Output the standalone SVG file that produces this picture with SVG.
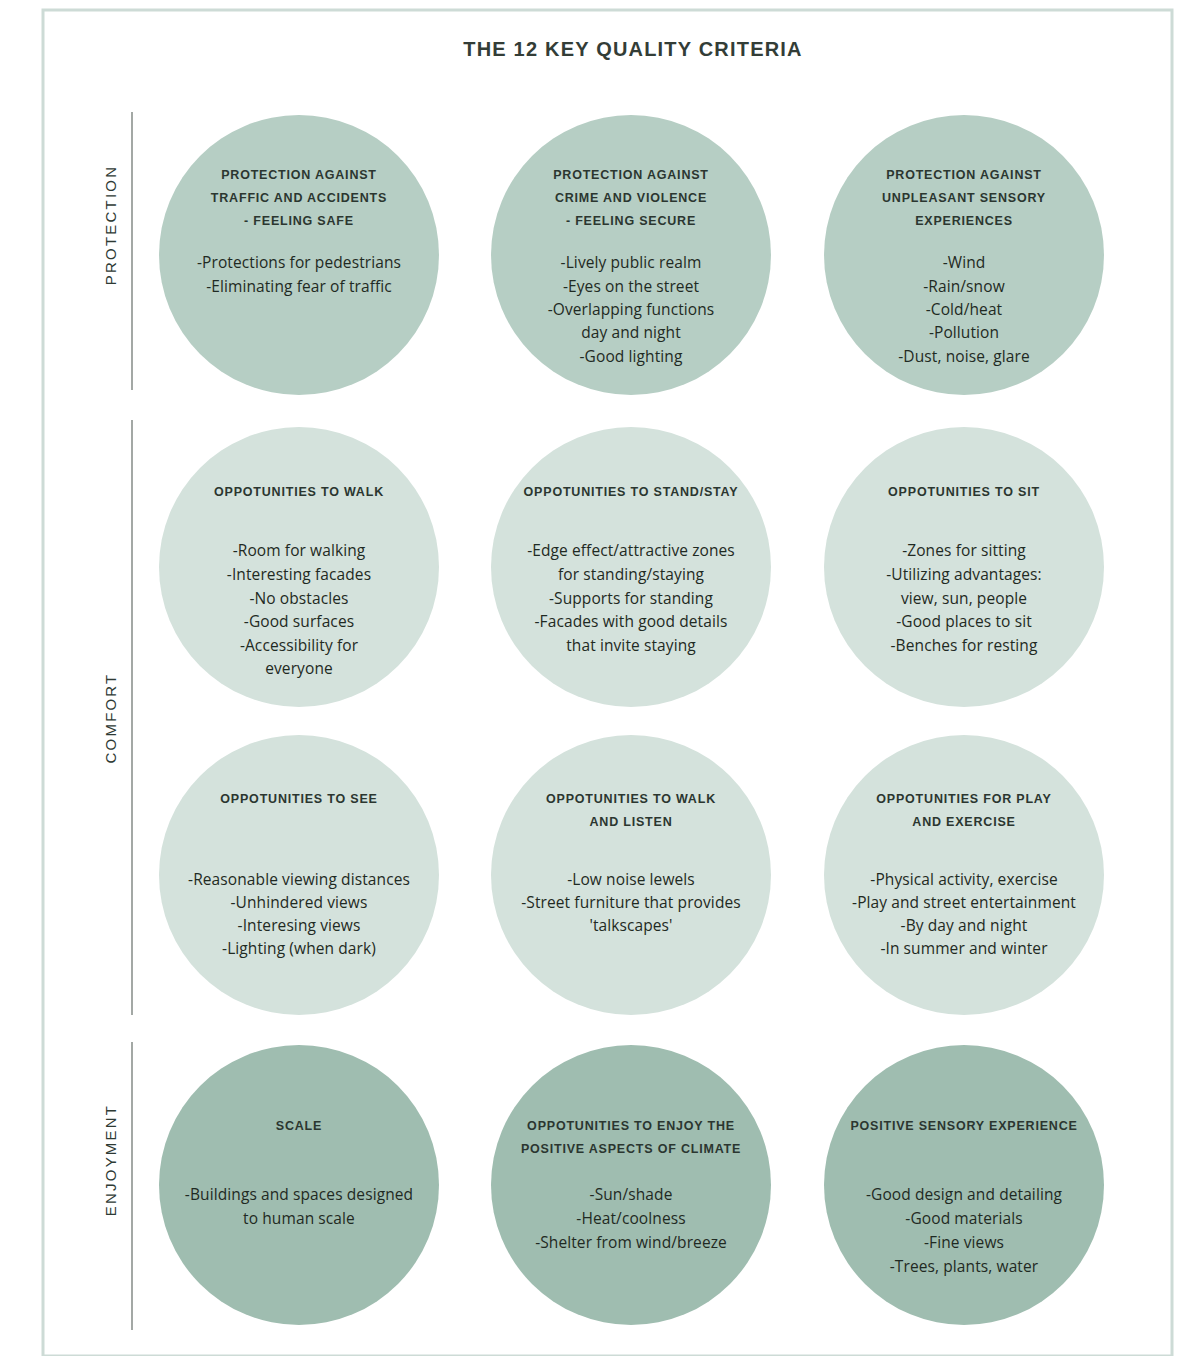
<svg xmlns="http://www.w3.org/2000/svg" width="1182" height="1356" viewBox="0 0 1182 1356">
<style>
.bg{fill:#ffffff}
.frame{fill:none;stroke:#cddbd6;stroke-width:3}
.title{font-family:"Liberation Sans",Arial,sans-serif;font-size:20px;font-weight:bold;fill:#333d37;text-anchor:middle;letter-spacing:1.2px}
.side{font-family:"Liberation Sans",Arial,sans-serif;font-size:15px;fill:#2e3a34;text-anchor:middle;letter-spacing:2.2px}
.rule{stroke:#a3a8a5;stroke-width:2}
.r1{fill:#b6cec4}
.r2{fill:#d4e2dc}
.r4{fill:#9fbdb0}
.h{font-family:"Liberation Sans",Arial,sans-serif;font-size:12.5px;font-weight:bold;fill:#2b3630;text-anchor:middle;letter-spacing:0.8px}
.b{font-family:"Open Sans","Liberation Sans",Arial,sans-serif;font-size:15.5px;fill:#1f2a23;text-anchor:middle;letter-spacing:0.1px}
</style>
<rect class="bg" x="0" y="0" width="1182" height="1356"/>
<rect class="frame" x="43" y="10" width="1129" height="1346"/>
<text class="title" x="633" y="56">THE 12 KEY QUALITY CRITERIA</text>
<g id="categories">
<line class="rule" x1="132" y1="112" x2="132" y2="390"/>
<line class="rule" x1="132" y1="420" x2="132" y2="1015"/>
<line class="rule" x1="132" y1="1042" x2="132" y2="1330"/>
<text class="side" transform="translate(116,225) rotate(-90)">PROTECTION</text>
<text class="side" transform="translate(116,718) rotate(-90)">COMFORT</text>
<text class="side" transform="translate(116,1160) rotate(-90)">ENJOYMENT</text>
</g>
<g id="connectors"></g>
<g id="n1">
<circle class="r1" cx="299" cy="255" r="140"/>
<text class="h" x="299" y="179">PROTECTION AGAINST</text>
<text class="h" x="299" y="202">TRAFFIC AND ACCIDENTS</text>
<text class="h" x="299" y="225">- FEELING SAFE</text>
<text class="b" x="299" y="268">-Protections for pedestrians</text>
<text class="b" x="299" y="292">-Eliminating fear of traffic</text>
</g>
<g id="n2">
<circle class="r1" cx="631" cy="255" r="140"/>
<text class="h" x="631" y="179">PROTECTION AGAINST</text>
<text class="h" x="631" y="202">CRIME AND VIOLENCE</text>
<text class="h" x="631" y="225">- FEELING SECURE</text>
<text class="b" x="631" y="268">-Lively public realm</text>
<text class="b" x="631" y="292">-Eyes on the street</text>
<text class="b" x="631" y="315">-Overlapping functions</text>
<text class="b" x="631" y="338">day and night</text>
<text class="b" x="631" y="362">-Good lighting</text>
</g>
<g id="n3">
<circle class="r1" cx="964" cy="255" r="140"/>
<text class="h" x="964" y="179">PROTECTION AGAINST</text>
<text class="h" x="964" y="202">UNPLEASANT SENSORY</text>
<text class="h" x="964" y="225">EXPERIENCES</text>
<text class="b" x="964" y="268">-Wind</text>
<text class="b" x="964" y="292">-Rain/snow</text>
<text class="b" x="964" y="315">-Cold/heat</text>
<text class="b" x="964" y="338">-Pollution</text>
<text class="b" x="964" y="362">-Dust, noise, glare</text>
</g>
<g id="n4">
<circle class="r2" cx="299" cy="567" r="140"/>
<text class="h" x="299" y="496">OPPOTUNITIES TO WALK</text>
<text class="b" x="299" y="556">-Room for walking</text>
<text class="b" x="299" y="580">-Interesting facades</text>
<text class="b" x="299" y="604">-No obstacles</text>
<text class="b" x="299" y="627">-Good surfaces</text>
<text class="b" x="299" y="651">-Accessibility for</text>
<text class="b" x="299" y="674">everyone</text>
</g>
<g id="n5">
<circle class="r2" cx="631" cy="567" r="140"/>
<text class="h" x="631" y="496">OPPOTUNITIES TO STAND/STAY</text>
<text class="b" x="631" y="556">-Edge effect/attractive zones</text>
<text class="b" x="631" y="580">for standing/staying</text>
<text class="b" x="631" y="604">-Supports for standing</text>
<text class="b" x="631" y="627">-Facades with good details</text>
<text class="b" x="631" y="651">that invite staying</text>
</g>
<g id="n6">
<circle class="r2" cx="964" cy="567" r="140"/>
<text class="h" x="964" y="496">OPPOTUNITIES TO SIT</text>
<text class="b" x="964" y="556">-Zones for sitting</text>
<text class="b" x="964" y="580">-Utilizing advantages:</text>
<text class="b" x="964" y="604">view, sun, people</text>
<text class="b" x="964" y="627">-Good places to sit</text>
<text class="b" x="964" y="651">-Benches for resting</text>
</g>
<g id="n7">
<circle class="r2" cx="299" cy="875" r="140"/>
<text class="h" x="299" y="803">OPPOTUNITIES TO SEE</text>
<text class="b" x="299" y="885">-Reasonable viewing distances</text>
<text class="b" x="299" y="908">-Unhindered views</text>
<text class="b" x="299" y="931">-Interesing views</text>
<text class="b" x="299" y="954">-Lighting (when dark)</text>
</g>
<g id="n8">
<circle class="r2" cx="631" cy="875" r="140"/>
<text class="h" x="631" y="803">OPPOTUNITIES TO WALK</text>
<text class="h" x="631" y="826">AND LISTEN</text>
<text class="b" x="631" y="885">-Low noise lewels</text>
<text class="b" x="631" y="908">-Street furniture that provides</text>
<text class="b" x="631" y="931">'talkscapes'</text>
</g>
<g id="n9">
<circle class="r2" cx="964" cy="875" r="140"/>
<text class="h" x="964" y="803">OPPOTUNITIES FOR PLAY</text>
<text class="h" x="964" y="826">AND EXERCISE</text>
<text class="b" x="964" y="885">-Physical activity, exercise</text>
<text class="b" x="964" y="908">-Play and street entertainment</text>
<text class="b" x="964" y="931">-By day and night</text>
<text class="b" x="964" y="954">-In summer and winter</text>
</g>
<g id="n10">
<circle class="r4" cx="299" cy="1185" r="140"/>
<text class="h" x="299" y="1130">SCALE</text>
<text class="b" x="299" y="1200">-Buildings and spaces designed</text>
<text class="b" x="299" y="1224">to human scale</text>
</g>
<g id="n11">
<circle class="r4" cx="631" cy="1185" r="140"/>
<text class="h" x="631" y="1130">OPPOTUNITIES TO ENJOY THE</text>
<text class="h" x="631" y="1153">POSITIVE ASPECTS OF CLIMATE</text>
<text class="b" x="631" y="1200">-Sun/shade</text>
<text class="b" x="631" y="1224">-Heat/coolness</text>
<text class="b" x="631" y="1248">-Shelter from wind/breeze</text>
</g>
<g id="n12">
<circle class="r4" cx="964" cy="1185" r="140"/>
<text class="h" x="964" y="1130">POSITIVE SENSORY EXPERIENCE</text>
<text class="b" x="964" y="1200">-Good design and detailing</text>
<text class="b" x="964" y="1224">-Good materials</text>
<text class="b" x="964" y="1248">-Fine views</text>
<text class="b" x="964" y="1272">-Trees, plants, water</text>
</g>
</svg>
